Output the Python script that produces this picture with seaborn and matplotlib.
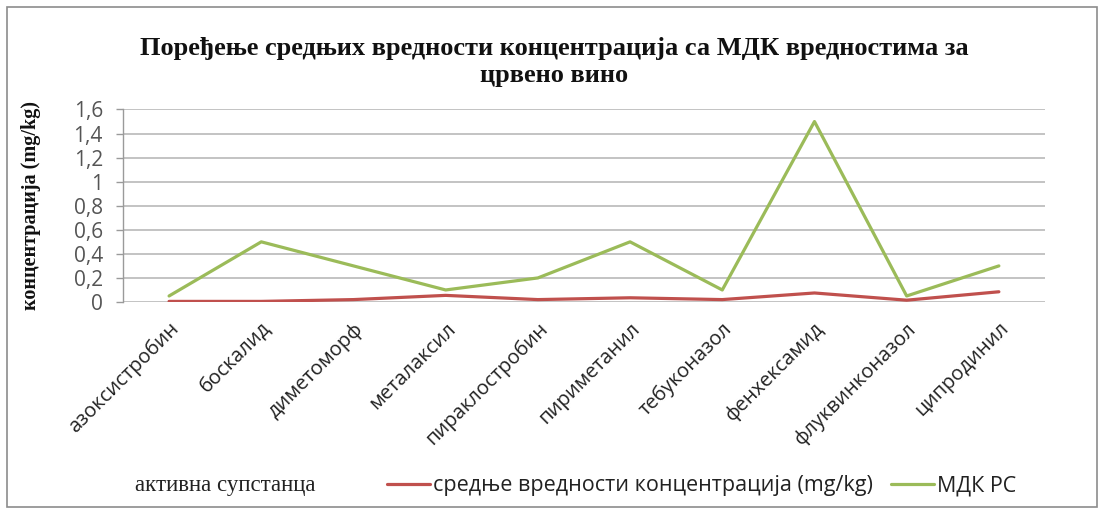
import matplotlib
matplotlib.use("Agg")
import matplotlib.pyplot as plt
import matplotlib.patches as mpatches
from matplotlib.lines import Line2D
import pandas as pd
import seaborn as sns

# Active substances (x categories)
substances = [
    "азоксистробин", "боскалид", "диметоморф", "металаксил", "пираклостробин",
    "пириметанил", "тебуконазол", "фенхексамид", "флуквинконазол", "ципродинил",
]
# Mean measured concentrations in red wine (mg/kg)
mean_conc = [0.005, 0.005, 0.02, 0.055, 0.02, 0.035, 0.02, 0.075, 0.015, 0.085]
# Maximum residue limits, Republic of Serbia (mg/kg)
mrl_rs = [0.05, 0.5, 0.3, 0.1, 0.2, 0.5, 0.1, 1.5, 0.05, 0.3]

series_names = ["средње вредности концентрација (mg/kg)", "МДК РС"]
series_colors = ["#C0504D", "#9BBB59"]
y_ticks = [0, 0.2, 0.4, 0.6, 0.8, 1.0, 1.2, 1.4, 1.6]
y_tick_labels = ["0", "0,2", "0,4", "0,6", "0,8", "1", "1,2", "1,4", "1,6"]

df = pd.DataFrame({
    "substance": substances * 2,
    "value": mean_conc + mrl_rs,
    "series": [series_names[0]] * len(substances) + [series_names[1]] * len(substances),
})

sns.set_theme(style="white")
sans = ["Open Sans", "DejaVu Sans"]
serif = ["Liberation Serif", "DejaVu Serif"]
plt.rcParams["font.family"] = sans

fig = plt.figure(figsize=(10.98, 5.15), dpi=100)
ax = fig.add_axes([0.112, 0.4136, 0.8397, 0.3738])

sns.lineplot(
    data=df, x="substance", y="value", hue="series", hue_order=series_names,
    palette=series_colors, linewidth=2.3, sort=False, legend=False, ax=ax,
)

ax.set_xlim(-0.5, len(substances) - 0.5)
ax.set_ylim(0, 1.6)
ax.set_yticks(y_ticks)
ax.set_yticklabels(y_tick_labels, fontsize=15, color="#555555")
ax.set_xticks(range(len(substances)))
ax.set_xticklabels(substances, rotation=45, ha="right", rotation_mode="anchor",
                   fontsize=14.5, color="#222222")
ax.set_xlabel("")
ax.set_ylabel("")
ax.grid(axis="y", color="#BEBEBE", linewidth=1.3)
ax.set_axisbelow(True)
for side in ["top", "right", "bottom"]:
    ax.spines[side].set_visible(False)
ax.spines["left"].set_color("#9A9A9A")
ax.spines["left"].set_linewidth(1.0)
ax.tick_params(axis="y", which="both", left=True, length=5, width=1.0,
               color="#9A9A9A", pad=9.5)
ax.tick_params(axis="x", length=0, pad=12)

# Chart frame
fig.patches.append(mpatches.Rectangle(
    (7 / 1098, 8 / 515), 1090 / 1098, 500 / 515, transform=fig.transFigure,
    fill=False, edgecolor="#8C8C8C", linewidth=1.2))

fig.text(0.505, 0.88, "Поређење средњих вредности концентрација са МДК вредностима за\nцрвено вино",
         ha="center", va="center", fontsize=19, fontweight="bold", family=serif,
         linespacing=1.2, color="#111111")

fig.text(0.028, 0.60, "концентрација (mg/kg)", rotation=90, ha="center", va="center",
         fontsize=14.5, fontweight="bold", family=serif, color="#111111")

fig.text(0.123, 0.057, "активна супстанца", ha="left", va="center",
         fontsize=16.5, family=serif, color="#222222")

handles = [Line2D([0], [0], color=c, linewidth=2.3) for c in series_colors]
fig.legend(handles, series_names, loc="center left", bbox_to_anchor=(0.335, 0.057),
           ncol=2, frameon=False, fontsize=15.5, handlelength=2.0, handletextpad=0.15,
           columnspacing=0.8, labelcolor="#222222")

fig.savefig("out.png", dpi=100)
